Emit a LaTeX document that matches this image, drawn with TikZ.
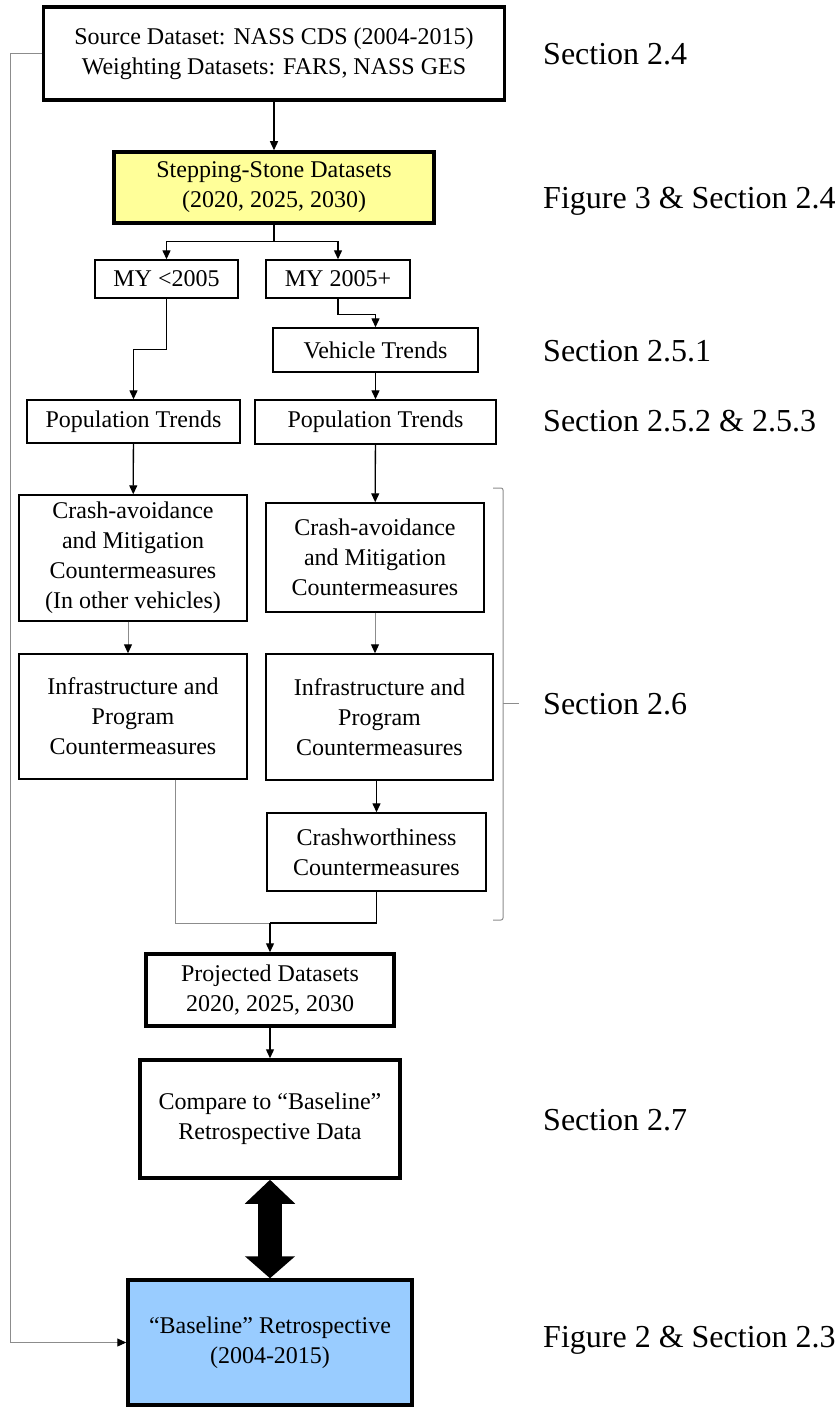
\documentclass[tikz,border=0pt]{standalone}
\usepackage{fontspec}
\setmainfont{Liberation Serif}
\usepackage{xcolor}
\usetikzlibrary{arrows.meta,positioning,calc}
\definecolor{stoneyellow}{RGB}{255,255,153}
\definecolor{baseblue}{RGB}{153,204,255}

\begin{document}
\begin{tikzpicture}[x=1pt, y=-1pt, >={Triangle[length=9pt,width=8pt]},
    box/.style={draw, line width=1.4pt, inner sep=0pt, align=center,
        font=\fontsize{24}{30}\selectfont},
    bigbox/.style={box, line width=3.5pt},
    note/.style={anchor=base west, inner sep=0pt, font=\fontsize{32}{38}\selectfont},
    link/.style={->, line width=1.3pt},
    faint/.style={draw=black!45, line width=1pt},
    faintarr/.style={faint, -{Triangle[length=9pt,width=8pt,black]}}]
        \useasboundingbox (0,0) rectangle (837,1407);

        % Source and stepping-stone datasets
        \node[bigbox, minimum width=461, minimum height=93] (src) at (274,53.5)
            {Source Dataset: NASS CDS (2004-2015)\\Weighting Datasets: FARS, NASS GES};
        \node[bigbox, fill=stoneyellow, minimum width=320, minimum height=71] (stone) at (274,187.5)
            {Stepping-Stone Datasets\\(2020, 2025, 2030)};

        % Model year split
        \node[box, minimum width=143, minimum height=38] (myold) at (166.5,279) {MY <2005};
        \node[box, minimum width=144, minimum height=38] (mynew) at (338,279) {MY 2005+};
        \node[box, minimum width=205, minimum height=44] (veh) at (375.5,350) {Vehicle Trends};
        \node[box, minimum width=213, minimum height=43] (popl) at (133.5,421.5) {Population Trends};
        \node[box, minimum width=241, minimum height=44] (popr) at (375.5,422) {Population Trends};

        % Countermeasures
        \node[box, minimum width=228, minimum height=126] (crashl) at (133,558)
            {Crash-avoidance\\and Mitigation\\Countermeasures\\(In other vehicles)};
        \node[box, minimum width=218, minimum height=109] (crashr) at (375,557.5)
            {Crash-avoidance\\and Mitigation\\Countermeasures};
        \node[box, minimum width=228, minimum height=125] (infral) at (133,716.5)
            {Infrastructure and\\Program\\Countermeasures};
        \node[box, minimum width=227, minimum height=126] (infrar) at (379.5,717)
            {Infrastructure and\\Program\\Countermeasures};
        \node[box, minimum width=219, minimum height=78] (worth) at (376.5,852)
            {Crashworthiness\\Countermeasures};

        % Projection and comparison
        \node[bigbox, minimum width=248, minimum height=72] (proj) at (270,990)
            {Projected Datasets\\2020, 2025, 2030};
        \node[bigbox, minimum width=260, minimum height=118] (cmp) at (270,1119)
            {Compare to “Baseline”\\Retrospective Data};
        \node[bigbox, fill=baseblue, minimum width=284, minimum height=125] (base) at (270,1342.5)
            {“Baseline” Retrospective\\(2004-2015)};

        % Section references
        \node[note] (nsrc) at (543,65) {Section 2.4};
        \node[note] (nstone) at (543,208) {Figure 3 \& Section 2.4};
        \node[note] (nveh) at (543,361) {Section 2.5.1};
        \node[note] (npop) at (543,431) {Section 2.5.2 \& 2.5.3};
        \node[note] (ncm) at (543,714) {Section 2.6};
        \node[note] (ncmp) at (543,1130) {Section 2.7};
        \node[note] (nbase) at (543,1347) {Figure 2 \& Section 2.3};

        % Bracket
        \draw[faint, rounded corners=2pt] (493,488) -- (503,488) -- (503,920) -- (493,920);
        \draw[faint] (503,703) -- (519,703);

        % Connectors
        \draw[link] (src) -- (stone);
        \draw[link] (stone.south) -- ++(0,17) -| (myold.north);
        \draw[link] (stone.south) -- ++(0,17) -| (mynew.north);
        \draw[link] (myold.south) -- ++(0,51) -| (popl.north);
        \draw[link] (mynew.south) -- ++(0,16) -| (veh.north);
        \draw[link] (veh) -- (popr);
        \draw[link] (popl) -- (crashl);
        \draw[link] (popr) -- (crashr);
        \draw[faintarr] ($(crashl.south)+(-5,0)$) -- ($(infral.north)+(-5,0)$);
        \draw[faintarr] (crashr.south) -- (crashr.south |- infrar.north);
        \draw[link] (infrar.south -| worth) -- (worth.north);

        \coordinate (join) at (270,923);
        \draw[faint] ($(infral.south)+(42,0)$) |- (worth.south |- join);
        \draw[line width=1.3pt] (worth.south) -- (worth.south |- join) -- (join);
        \draw[link] (join) -- (proj);
        \draw[link] (proj) -- (cmp);
        \draw[line width=24pt, {Triangle[length=24pt,width=49pt]}-{Triangle[length=22pt,width=49pt]}]
            (cmp.south) -- (base.north);

        % Feedback to baseline
        \draw[faintarr] (src.west) -- ++(-31,0) |- (base.west);
    \end{tikzpicture}
\end{document}
